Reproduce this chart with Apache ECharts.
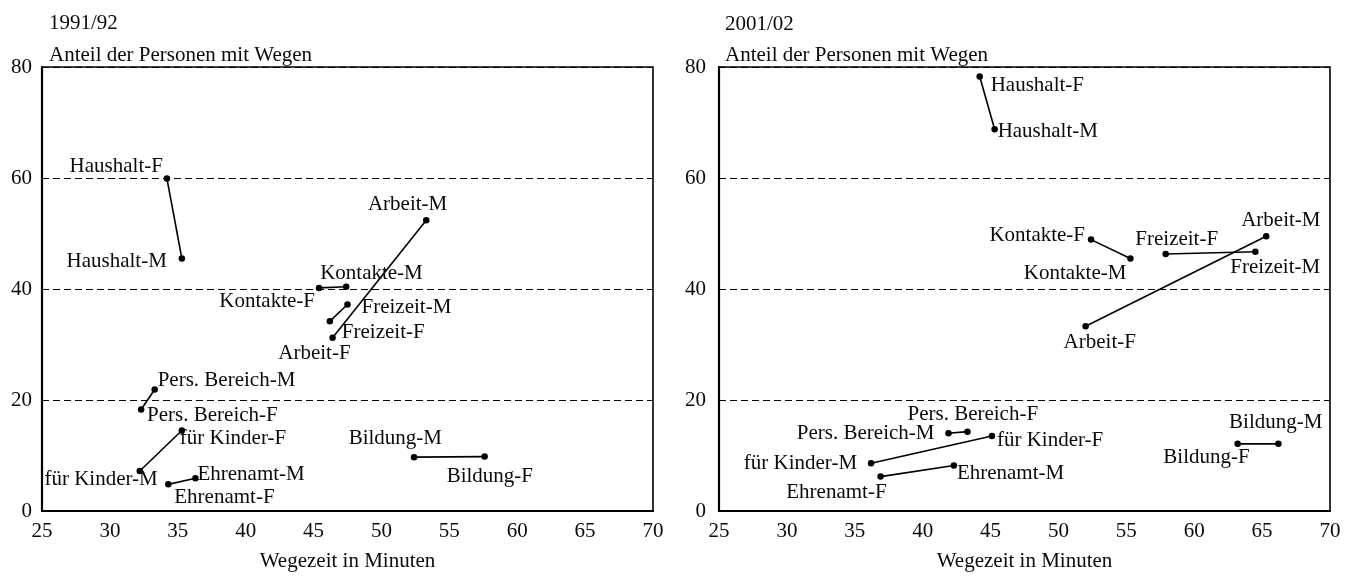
<!DOCTYPE html>
<html><head><meta charset="utf-8">
<script src="https://cdn.jsdelivr.net/npm/echarts@6/dist/echarts.min.js"></script>
<style>html,body{margin:0;padding:0;background:#fff}#c{width:1354px;height:577px}</style>
</head><body><div id="c"></div>
<script>
// ---- data ----
const categories = ['Haushalt', 'Arbeit', 'Kontakte', 'Freizeit', 'Pers. Bereich', 'für Kinder', 'Ehrenamt', 'Bildung'];
const panelTitles = ['1991/92', '2001/02'];
const yAxisTitle = 'Anteil der Personen mit Wegen';
const xAxisTitle = 'Wegezeit in Minuten';
// 1991/92 (x = Wegezeit in Minuten, y = Anteil in %)
const time1991F  = [34.2, 46.4, 45.4, 46.2, 32.3, 35.3, 34.3, 57.6];
const share1991F = [59.9, 31.2, 40.2, 34.2, 18.3, 14.5, 4.8, 9.8];
const time1991M  = [35.3, 53.3, 47.4, 47.5, 33.3, 32.2, 36.3, 52.4];
const share1991M = [45.5, 52.4, 40.4, 37.2, 21.9, 7.2, 5.9, 9.7];
// 2001/02
const time2001F  = [44.2, 52.0, 52.4, 57.9, 43.3, 45.1, 36.9, 63.2];
const share2001F = [78.3, 33.3, 48.9, 46.3, 14.3, 13.5, 6.2, 12.1];
const time2001M  = [45.3, 65.3, 55.3, 64.5, 41.9, 36.2, 42.3, 66.2];
const share2001M = [68.8, 49.5, 45.5, 46.7, 14.0, 8.6, 8.2, 12.1];
const xTicks = [25, 30, 35, 40, 45, 50, 55, 60, 65, 70];
const yTicks = [0, 20, 40, 60, 80];

// ---- label placement (style only): [align, dx, dy] from the point ----
const place1991 = {
  'Haushalt-F': ['right', -4, -12], 'Haushalt-M': ['right', -15, 3],
  'Arbeit-M': ['right', 21, -16], 'Arbeit-F': ['right', 18, 16],
  'Kontakte-M': ['left', -26, -13], 'Kontakte-F': ['right', -4, 14],
  'Freizeit-M': ['left', 14, 3], 'Freizeit-F': ['left', 12, 11],
  'Pers. Bereich-M': ['left', 3, -9], 'Pers. Bereich-F': ['left', 6, 6],
  'für Kinder-F': ['left', -2, 8], 'für Kinder-M': ['right', 18, 8],
  'Ehrenamt-M': ['left', 2, -4], 'Ehrenamt-F': ['left', 6, 13],
  'Bildung-M': ['right', 28, -19], 'Bildung-F': ['left', -38, 20]
};
const place2001 = {
  'Haushalt-F': ['left', 11, 9], 'Haushalt-M': ['left', 3, 2],
  'Kontakte-F': ['right', -6, -4], 'Kontakte-M': ['right', -4, 15],
  'Freizeit-F': ['center', 11, -15], 'Freizeit-M': ['left', -25, 16],
  'Arbeit-M': ['left', -25, -16], 'Arbeit-F': ['left', -22, 16],
  'Pers. Bereich-F': ['left', -60, -17], 'Pers. Bereich-M': ['right', -14, 0],
  'für Kinder-F': ['left', 5, 4], 'für Kinder-M': ['right', -14, 0],
  'Ehrenamt-M': ['left', 3, 8], 'Ehrenamt-F': ['right', 6, 16],
  'Bildung-M': ['right', 44, -21], 'Bildung-F': ['right', 12, 14]
};

const FONT = "'Liberation Serif', 'DejaVu Serif', serif";
const FS = 21;
const TXT = '#0a0a0a';

function point(x, y, name, place) {
  const p = place[name] || ['left', 6, 0];
  return {
    value: [x, y], name: name,
    label: { show: true, position: 'inside', align: p[0], verticalAlign: 'middle', offset: [p[1], p[2]] }
  };
}

function panelSeries(idx, tF, sF, tM, sM, place) {
  return categories.map((c, i) => ({
    type: 'line',
    xAxisIndex: idx, yAxisIndex: idx,
    symbol: 'circle', symbolSize: 6.5,
    itemStyle: { color: '#000' },
    lineStyle: { color: '#000', width: 1.6 },
    label: { show: true, formatter: '{b}', color: TXT, fontFamily: FONT, fontSize: FS },
    emphasis: { disabled: true },
    data: [point(tF[i], sF[i], c + '-F', place), point(tM[i], sM[i], c + '-M', place)]
  }));
}

function xAx(idx) {
  return {
    type: 'value', gridIndex: idx, min: xTicks[0], max: xTicks[xTicks.length - 1], interval: 5,
    axisLine: { show: true, onZero: false, lineStyle: { color: '#000', width: 2.2 } },
    axisTick: { show: false }, splitLine: { show: false },
    axisLabel: { color: TXT, fontFamily: FONT, fontSize: FS, margin: 10 },
    name: xAxisTitle, nameLocation: 'middle', nameGap: 40,
    nameTextStyle: { color: TXT, fontFamily: FONT, fontSize: FS }
  };
}
function yAx(idx, margin) {
  return {
    type: 'value', gridIndex: idx, min: yTicks[0], max: yTicks[yTicks.length - 1], interval: 20,
    axisLine: { show: true, onZero: false, lineStyle: { color: '#000', width: 2.2 } },
    axisTick: { show: false },
    splitLine: { show: true, lineStyle: { color: '#000', width: 1.2, type: [7, 4] } },
    axisLabel: { color: TXT, fontFamily: FONT, fontSize: FS, margin: margin }
  };
}

const titleStyle = { color: TXT, fontFamily: FONT, fontSize: FS, fontWeight: 'normal' };
const chart = echarts.init(document.getElementById('c'), null, { renderer: 'canvas' });
chart.setOption({
  animation: false,
  backgroundColor: '#fff',
  title: [
    { text: panelTitles[0], left: 44, top: 8, textStyle: titleStyle },
    { text: yAxisTitle, left: 44, top: 40, textStyle: titleStyle },
    { text: panelTitles[1], left: 720, top: 9, textStyle: titleStyle },
    { text: yAxisTitle, left: 720, top: 40, textStyle: titleStyle }
  ],
  grid: [
    { left: 42, right: 701, top: 67, bottom: 64, show: true, borderColor: '#000', borderWidth: 1.6, containLabel: false },
    { left: 719, right: 24, top: 67, bottom: 64, show: true, borderColor: '#000', borderWidth: 1.6, containLabel: false }
  ],
  xAxis: [xAx(0), xAx(1)],
  yAxis: [yAx(0, 10), yAx(1, 13)],
  series: [].concat(
    panelSeries(0, time1991F, share1991F, time1991M, share1991M, place1991),
    panelSeries(1, time2001F, share2001F, time2001M, share2001M, place2001)
  )
});
</script></body></html>
